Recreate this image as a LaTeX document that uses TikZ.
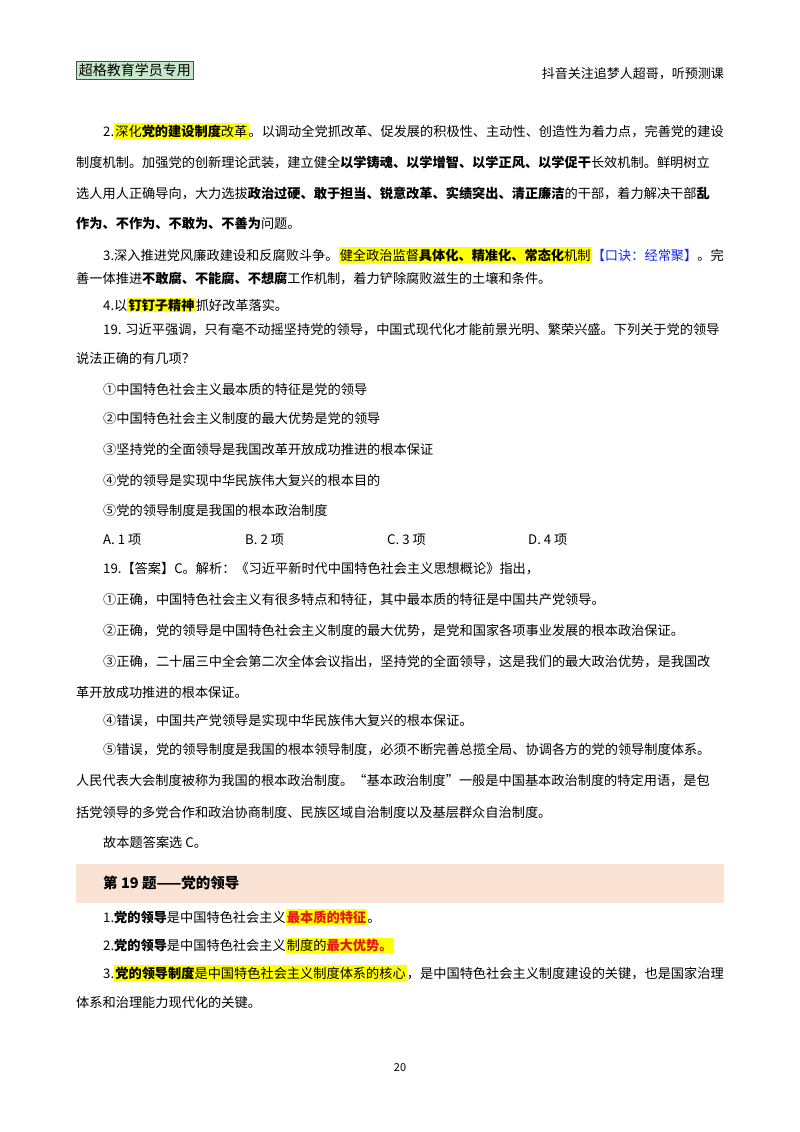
\documentclass[tikz,border=0pt]{standalone}
\usepackage{fontspec}
\setmainfont{Noto Sans CJK SC}
\usepackage{xcolor}
\definecolor{hlY}{RGB}{255,255,0}
\definecolor{band}{RGB}{250,226,212}
\definecolor{tagg}{RGB}{200,232,204}
\definecolor{kred}{RGB}{230,20,20}
\definecolor{kblue}{RGB}{20,40,240}
\newcommand{\hl}[1]{{\setlength\fboxsep{1.2pt}\colorbox{hlY}{#1}}}
\begin{document}
\begin{tikzpicture}[x=1pt,y=-1pt,
  ln/.style={anchor=west,inner sep=0pt,font=\fontsize{13.2}{15}\selectfont}]
\useasboundingbox (0,0) rectangle (800,1132);
\fill[white] (0,0) rectangle (800,1132);
% header
\node[draw=black!70,fill=tagg,line width=0.8pt,anchor=west,inner sep=2.5pt,font=\fontsize{14}{16}\selectfont] (tag) at (76,70) {超格教育学员专用};
\node[anchor=east,inner sep=0pt,font=\fontsize{13}{14}\selectfont] (hr) at (724,74) {抖音关注追梦人超哥，听预测课};
% section 2-4
\node[ln] (a1) at (103,131) {2.\hl{深化\textbf{党的建设制度}改革}。以调动全党抓改革、促发展的积极性、主动性、创造性为着力点，完善党的建设};
\node[ln] (a2) at (76,162) {制度机制。加强党的创新理论武装，建立健全\textbf{以学铸魂、以学增智、以学正风、以学促干}长效机制。鲜明树立};
\node[ln] (a3) at (76,193) {选人用人正确导向，大力选拔\textbf{政治过硬、敢于担当、锐意改革、实绩突出、清正廉洁}的干部，着力解决干部\textbf{乱}};
\node[ln] (a4) at (76,224) {\textbf{作为、不作为、不敢为、不善为}问题。};
\node[ln] (a5) at (103,255) {3.深入推进党风廉政建设和反腐败斗争。\hl{健全政治监督\textbf{具体化、精准化、常态化}机制}\textcolor{kblue}{【口诀：经常聚】}。完};
\node[ln] (a6) at (76,279) {善一体推进\textbf{不敢腐、不能腐、不想腐}工作机制，着力铲除腐败滋生的土壤和条件。};
\node[ln] (a7) at (103,305) {4.以\hl{\textbf{钉钉子精神}}抓好改革落实。};
% question
\node[ln] (q1) at (103,330) {19. 习近平强调，只有毫不动摇坚持党的领导，中国式现代化才能前景光明、繁荣兴盛。下列关于党的领导};
\node[ln] (q2) at (76,358) {说法正确的有几项？};
\node[ln] (o1) at (103,389) {①中国特色社会主义最本质的特征是党的领导};
\node[ln] (o2) at (103,418) {②中国特色社会主义制度的最大优势是党的领导};
\node[ln] (o3) at (103,449) {③坚持党的全面领导是我国改革开放成功推进的根本保证};
\node[ln] (o4) at (103,480) {④党的领导是实现中华民族伟大复兴的根本目的};
\node[ln] (o5) at (103,510) {⑤党的领导制度是我国的根本政治制度};
\node[ln] (cA) at (103,540) {A. 1 项};
\node[ln] (cB) at (245,540) {B. 2 项};
\node[ln] (cC) at (387,540) {C. 3 项};
\node[ln] (cD) at (528,540) {D. 4 项};
% answer
\node[ln] (r1) at (103,569) {19.【答案】C。解析：《习近平新时代中国特色社会主义思想概论》指出，};
\node[ln] (r2) at (103,600) {①正确，中国特色社会主义有很多特点和特征，其中最本质的特征是中国共产党领导。};
\node[ln] (r3) at (103,631) {②正确，党的领导是中国特色社会主义制度的最大优势，是党和国家各项事业发展的根本政治保证。};
\node[ln] (r4) at (103,662) {③正确，二十届三中全会第二次全体会议指出，坚持党的全面领导，这是我们的最大政治优势，是我国改};
\node[ln] (r5) at (76,692) {革开放成功推进的根本保证。};
\node[ln] (r6) at (103,721) {④错误，中国共产党领导是实现中华民族伟大复兴的根本保证。};
\node[ln] (r7) at (103,750) {⑤错误，党的领导制度是我国的根本领导制度，必须不断完善总揽全局、协调各方的党的领导制度体系。};
\node[ln] (r8) at (76,781) {人民代表大会制度被称为我国的根本政治制度。“基本政治制度”一般是中国基本政治制度的特定用语，是包};
\node[ln] (r9) at (76,812) {括党领导的多党合作和政治协商制度、民族区域自治制度以及基层群众自治制度。};
\node[ln] (r10) at (103,842) {故本题答案选 C。};
% band
\fill[band] (76,864) rectangle (724,903);
\node[ln,font=\fontsize{14.5}{16}\selectfont\bfseries] (bt) at (103,883) {第 19 题——党的领导};
\node[ln] (k1) at (103,917) {1.\textbf{党的领导}是中国特色社会主义\hl{\textcolor{kred}{\textbf{最本质的特征}}}。};
\node[ln] (k2) at (103,945) {2.\textbf{党的领导}是中国特色社会主义\hl{制度的\textcolor{kred}{\textbf{最大优势。}}}};
\node[ln] (k3) at (103,973) {3.\hl{\textbf{党的领导制度}是中国特色社会主义制度体系的核心}，是中国特色社会主义制度建设的关键，也是国家治理};
\node[ln] (k4) at (76,1002) {体系和治理能力现代化的关键。};
\node[inner sep=0pt,font=\fontsize{11}{12}\selectfont] (pg) at (400,1068) {20};
\end{tikzpicture}
\end{document}
